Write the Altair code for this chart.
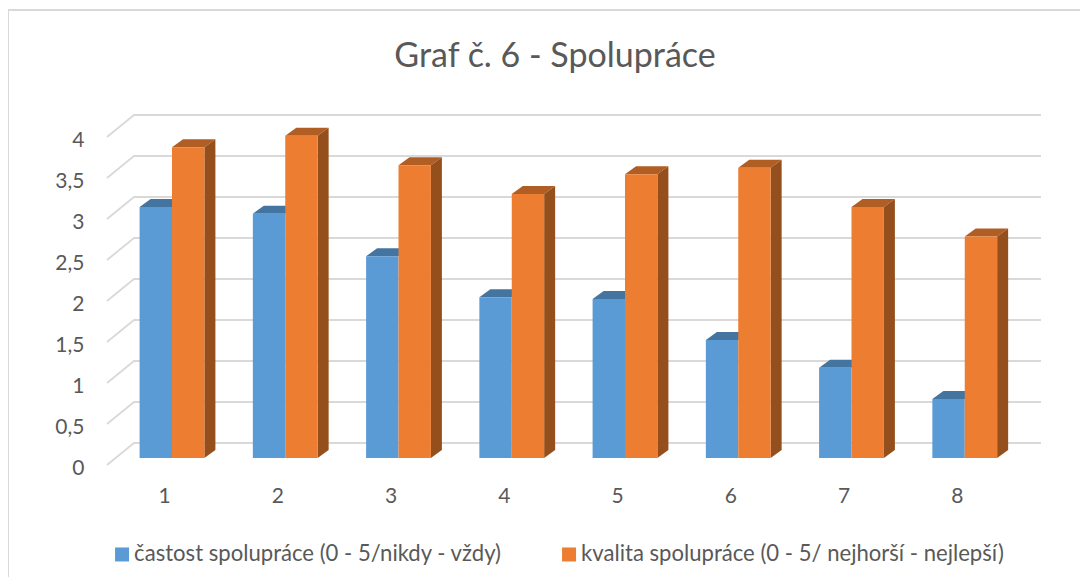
import altair as alt
import pandas as pd

categories = [1, 2, 3, 4, 5, 6, 7, 8]
castost = [3.06, 2.98, 2.46, 1.96, 1.94, 1.44, 1.10, 0.72]
kvalita = [3.79, 3.93, 3.57, 3.22, 3.46, 3.54, 3.06, 2.70]
y_ticks = [0, 0.5, 1, 1.5, 2, 2.5, 3, 3.5, 4]
series_names = ["častost spolupráce (0 - 5/nikdy - vždy)",
                "kvalita spolupráce (0 - 5/ nejhorší - nejlepší)"]
front_colors = ["#5B9BD5", "#ED7D31"]
top_colors = ["#4475A1", "#B05E24"]
side_colors = ["#3F6E98", "#954F1C"]
TEXT = "#595959"
GRID = "#D9D9D9"
FONT = "Lato"

PAD_TOP = 70
W, H = 1072, 569 - PAD_TOP
UX = 113.25           # px per category
UY = 82.0             # px per value unit
ORIGIN_X = 164.0      # plot px of category 1
ORIGIN_Y = 450.0 - PAD_TOP  # plot px of value 0 at the bars' front face

x_dom = [(0 - ORIGIN_X) / UX + 1, (W - ORIGIN_X) / UX + 1]
y_dom = [(ORIGIN_Y - H) / UY, ORIGIN_Y / UY]
xs = alt.Scale(domain=x_dom, range=[0, W], nice=False, zero=False)
ys = alt.Scale(domain=y_dom, range=[H, 0], nice=False, zero=False)

x_axis = alt.Axis(
    orient="bottom", values=categories, domain=False, ticks=False, grid=False, title=None,
    offset=-(H - (485 - 8 - PAD_TOP)), labelPadding=0, labelFlush=False, labelOffset=-8,
    labelFont=FONT, labelFontSize=21, labelColor=TEXT, format="d",
)
y_axis = alt.Axis(
    orient="left", values=y_ticks, domain=False, ticks=False, grid=False, title=None,
    offset=-76, labelPadding=0, labelOffset=10,
    labelFont=FONT, labelFontSize=21, labelColor=TEXT, format="~g",
    labelExpr="replace(datum.label, '.', ',')",
)

bar_w = 32.4 / UX
dx = 11 / UX
dy = 8 / UY

# --- gridlines (floor + back wall)
grid_rows = []
for t in y_ticks:
    grid_rows += [
        dict(t=t, x=(107 - 8 - ORIGIN_X) / UX + 1, y=t - 7 / UY),
        dict(t=t, x=(134 - 8 - ORIGIN_X) / UX + 1, y=t + 15 / UY),
        dict(t=t, x=(1041 - 8 - ORIGIN_X) / UX + 1, y=t + 15 / UY),
    ]
grid = alt.Chart(pd.DataFrame(grid_rows)).mark_line(color=GRID, strokeWidth=1.8).encode(
    x=alt.X("x:Q", scale=xs, axis=x_axis),
    y=alt.Y("y:Q", scale=ys, axis=y_axis),
    detail="t:N",
)


def faces(values, s):
    left_off = (s - 1) * bar_w
    front, top, side = [], [], []
    for c, v in zip(categories, values):
        l = c + left_off
        r = l + bar_w
        front.append(dict(l=l, r=r, v=v, b=0, name=series_names[s]))
        top += [
            dict(c=c, x=l, y=v, y2=v),
            dict(c=c, x=l + dx, y=v, y2=v + dy),
            dict(c=c, x=r, y=v, y2=v + dy),
            dict(c=c, x=r + dx, y=v + dy, y2=v + dy),
        ]
        side += [
            dict(c=c, x=r, y=0, y2=v),
            dict(c=c, x=r + dx, y=dy, y2=v + dy),
        ]
    return pd.DataFrame(front), pd.DataFrame(top), pd.DataFrame(side)


def area(df, color):
    return alt.Chart(df).mark_area(color=color, opacity=1, interpolate="linear").encode(
        x=alt.X("x:Q", scale=xs, axis=x_axis),
        y=alt.Y("y:Q", scale=ys, axis=y_axis),
        y2="y2:Q",
        detail="c:N",
    )


def rect(df):
    return alt.Chart(df).mark_rect(opacity=1).encode(
        x=alt.X("l:Q", scale=xs, axis=x_axis),
        x2="r:Q",
        y=alt.Y("v:Q", scale=ys, axis=y_axis),
        y2="b:Q",
        color=alt.Color(
            "name:N",
            scale=alt.Scale(domain=series_names, range=front_colors),
            legend=alt.Legend(
                title=None, orient="none", legendX=103, legendY=535 - PAD_TOP,
                direction="horizontal", columns=2, columnPadding=55,
                symbolType="square", symbolSize=196, symbolStrokeWidth=0,
                labelFont=FONT, labelFontSize=22.1, labelColor=TEXT, labelOffset=1, labelLimit=600,
            ),
        ),
    )


f0, t0, s0 = faces(castost, 0)
f1, t1, s1 = faces(kvalita, 1)

frame_top = alt.Chart(pd.DataFrame({"k": [0]})).mark_rule(color=GRID, strokeWidth=2).encode(
    x=alt.value(0), x2=alt.value(W), y=alt.value(10 - 8 - PAD_TOP))
frame_left = alt.Chart(pd.DataFrame({"k": [0]})).mark_rule(color=GRID, strokeWidth=2).encode(
    x=alt.value(0), y=alt.value(10 - 8 - PAD_TOP), y2=alt.value(H))

chart = alt.layer(
    frame_top, frame_left, grid, area(t0, top_colors[0]), rect(f0),
    area(t1, top_colors[1]), area(s1, side_colors[1]), rect(f1),
).properties(
    width=W, height=H,
    padding={"left": 0, "top": PAD_TOP, "right": 0, "bottom": 0},
    autosize=alt.AutoSizeParams(type="none"),
    title=alt.TitleParams(
        "Graf č. 6 - Spolupráce", font=FONT, fontSize=34, fontWeight="normal",
        color=TEXT, anchor="middle", dx=11, dy=65, offset=0,
    ),
).configure_view(stroke=None)

chart.save("out.html", embed_options={"renderer": "svg", "actions": False})
